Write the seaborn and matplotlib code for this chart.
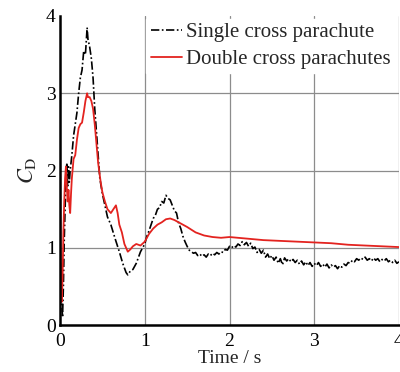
import matplotlib
matplotlib.use("Agg")
import matplotlib.pyplot as plt
import seaborn as sns
import pandas as pd

# Single cross parachute (black, dash-dot)
t_single = [0.00, 0.01, 0.02, 0.03, 0.04, 0.05, 0.06, 0.07, 0.08, 0.09, 0.10, 0.11, 0.12,
            0.14, 0.16, 0.18, 0.20, 0.22, 0.24, 0.26, 0.28, 0.30, 0.32, 0.33, 0.35, 0.37,
            0.39, 0.41, 0.43, 0.45, 0.47, 0.50, 0.53, 0.56, 0.60, 0.65, 0.70, 0.74, 0.78,
            0.80, 0.83, 0.86, 0.90, 0.95,
            1.000, 1.025, 1.050, 1.075, 1.100, 1.125, 1.150, 1.175, 1.200, 1.225, 1.250,
            1.275, 1.300, 1.325, 1.350, 1.375, 1.400, 1.425, 1.450, 1.475,
            1.500, 1.525, 1.550, 1.575, 1.600, 1.625, 1.650, 1.675, 1.700, 1.725, 1.750,
            1.775, 1.800, 1.825, 1.850, 1.875, 1.900, 1.925, 1.950, 1.975, 2.000, 2.025,
            2.050, 2.075, 2.100, 2.125, 2.150, 2.175, 2.200, 2.225, 2.250, 2.275, 2.300,
            2.325, 2.350, 2.375, 2.400, 2.425, 2.450, 2.475, 2.500, 2.525, 2.550, 2.575,
            2.600, 2.625, 2.650, 2.675, 2.700, 2.725, 2.750, 2.775, 2.800, 2.825, 2.850,
            2.875, 2.900, 2.925, 2.950, 2.975, 3.000, 3.025, 3.050, 3.075, 3.100, 3.125,
            3.150, 3.175, 3.200, 3.225, 3.250, 3.275, 3.300, 3.325, 3.350, 3.375, 3.400,
            3.425, 3.450, 3.475, 3.500, 3.525, 3.550, 3.575, 3.600, 3.625, 3.650, 3.675,
            3.700, 3.725, 3.750, 3.775, 3.800, 3.825, 3.850, 3.875, 3.900, 3.925, 3.950,
            3.975, 4.000]
cd_single = [1.00, 0.60, 0.30, 0.10, 0.50, 1.10, 1.50, 1.90, 2.10, 1.80, 2.05, 1.85, 2.00,
             2.20, 2.45, 2.60, 2.75, 3.00, 3.20, 3.30, 3.55, 3.50, 3.85, 3.70, 3.60, 3.45,
             3.20, 2.80, 2.50, 2.20, 1.90, 1.70, 1.55, 1.40, 1.30, 1.12, 0.95, 0.80, 0.68,
             0.65, 0.70, 0.72, 0.80, 0.95,
             1.05, 1.15, 1.22, 1.30, 1.38, 1.42, 1.50, 1.52, 1.60, 1.58, 1.68,
             1.64, 1.62, 1.55, 1.48, 1.45, 1.32, 1.25, 1.15, 1.08,
             1.02, 0.97, 0.95, 0.93, 0.94, 0.90, 0.92, 0.89, 0.91, 0.88, 0.92,
             0.90, 0.93, 0.91, 0.94, 0.92, 0.95, 0.94, 0.98, 0.97, 1.02, 1.00,
             1.03, 1.01, 1.05, 1.03, 1.08, 1.04, 1.07, 1.02, 1.06, 0.99, 1.01,
             0.94, 0.98, 0.93, 0.97, 0.88, 0.92, 0.86, 0.90, 0.84, 0.88, 0.80,
             0.86, 0.78, 0.87, 0.83, 0.86, 0.82, 0.85, 0.81, 0.84, 0.79, 0.83,
             0.78, 0.82, 0.77, 0.81, 0.76, 0.80, 0.77, 0.81, 0.76, 0.79, 0.75,
             0.79, 0.74, 0.78, 0.75, 0.77, 0.73, 0.77, 0.75, 0.79, 0.77, 0.81,
             0.80, 0.84, 0.82, 0.86, 0.84, 0.87, 0.85, 0.88, 0.84, 0.86, 0.83,
             0.87, 0.84, 0.86, 0.82, 0.85, 0.83, 0.86, 0.82, 0.84, 0.81, 0.84,
             0.80, 0.82]

# Double cross parachutes (red, solid)
t_double = [0.000, 0.005, 0.010, 0.020, 0.030, 0.040, 0.050, 0.060, 0.070, 0.080, 0.090,
            0.100, 0.110, 0.120, 0.130, 0.140, 0.160, 0.180, 0.200, 0.220, 0.240, 0.260,
            0.280, 0.300, 0.320, 0.330, 0.350, 0.370, 0.390, 0.410, 0.430, 0.450, 0.480,
            0.500, 0.530, 0.560, 0.600, 0.630, 0.660, 0.680, 0.700, 0.730, 0.760, 0.800,
            0.830, 0.860, 0.900, 0.950, 1.000, 1.050, 1.100, 1.150, 1.200, 1.250, 1.300,
            1.350, 1.400, 1.500, 1.600, 1.700, 1.800, 1.900, 2.000, 2.100, 2.200, 2.400,
            2.600, 2.800, 3.000, 3.200, 3.400, 3.600, 3.800, 4.000]
cd_double = [2.50, 1.50, 0.80, 0.30, 0.60, 1.20, 1.60, 1.90, 2.05, 1.80, 1.60,
             1.75, 1.55, 1.45, 1.70, 1.90, 2.15, 2.20, 2.40, 2.55, 2.60, 2.62,
             2.75, 2.90, 3.00, 2.95, 2.95, 2.90, 2.80, 2.60, 2.35, 2.10, 1.85,
             1.72, 1.60, 1.50, 1.45, 1.50, 1.55, 1.45, 1.30, 1.20, 1.05, 0.95,
             0.98, 1.02, 1.05, 1.03, 1.08, 1.18, 1.25, 1.30, 1.33, 1.37, 1.38,
             1.36, 1.33, 1.27, 1.20, 1.16, 1.14, 1.13, 1.14, 1.13, 1.12, 1.10,
             1.09, 1.08, 1.07, 1.06, 1.04, 1.03, 1.02, 1.01]

labels = ["Single cross parachute", "Double cross parachutes"]
x_ticks = [0, 1, 2, 3, 4]
y_ticks = [0, 1, 2, 3, 4]

sns.set_theme(style="white")
plt.rcParams["font.family"] = ["Liberation Serif", "DejaVu Serif"]
plt.rcParams["mathtext.fontset"] = "stix"

df_s = pd.DataFrame({"t": t_single, "cd": cd_single})
df_d = pd.DataFrame({"t": t_double, "cd": cd_double})

fig = plt.figure(figsize=(4.0, 3.72), dpi=100)
ax = fig.add_axes([0.15, 0.126, 0.8475, 0.831])

for xv in x_ticks[1:]:
    ax.axvline(xv, color="#8c8c8c", lw=0.9, zorder=0)
for yv in y_ticks[1:-1]:
    ax.axhline(yv, color="#8c8c8c", lw=0.9, zorder=0)

sns.lineplot(data=df_s, x="t", y="cd", ax=ax, color="black", lw=1.2,
             linestyle=(0, (5, 1.5, 1, 1.5)), label=labels[0], sort=False, estimator=None)
sns.lineplot(data=df_d, x="t", y="cd", ax=ax, color="#e3231f", lw=1.3,
             label=labels[1], sort=False, estimator=None)

ax.set_xlim(0, 4)
ax.set_ylim(0, 4)
ax.set_xticks(x_ticks)
ax.set_yticks(y_ticks)
ax.set_xticklabels([str(v) for v in x_ticks])
ax.set_yticklabels([str(v) for v in y_ticks])
ax.tick_params(direction="in", length=5, width=1.2, labelsize=14, colors="black",
               pad=3)
ax.tick_params(axis="x", pad=6)

for side in ["left", "bottom"]:
    ax.spines[side].set_color("black")
    ax.spines[side].set_linewidth(1.8)
ax.spines["top"].set_visible(False)
ax.spines["right"].set_visible(False)

ax.set_xlabel("Time / s", fontsize=14, labelpad=0)
ax.set_ylabel(r"$C_\mathrm{D}$", fontsize=16, labelpad=6)

leg = ax.legend(loc="upper right", bbox_to_anchor=(1.0, 1.005), frameon=True,
                fontsize=15, handlelength=1.5, handletextpad=0.2,
                labelspacing=0.35, borderpad=0.2, borderaxespad=0.2, fancybox=False)
leg.get_frame().set_edgecolor("white")
leg.get_frame().set_facecolor("white")
leg.get_frame().set_alpha(1.0)

fig.savefig("out.png", dpi=100)
